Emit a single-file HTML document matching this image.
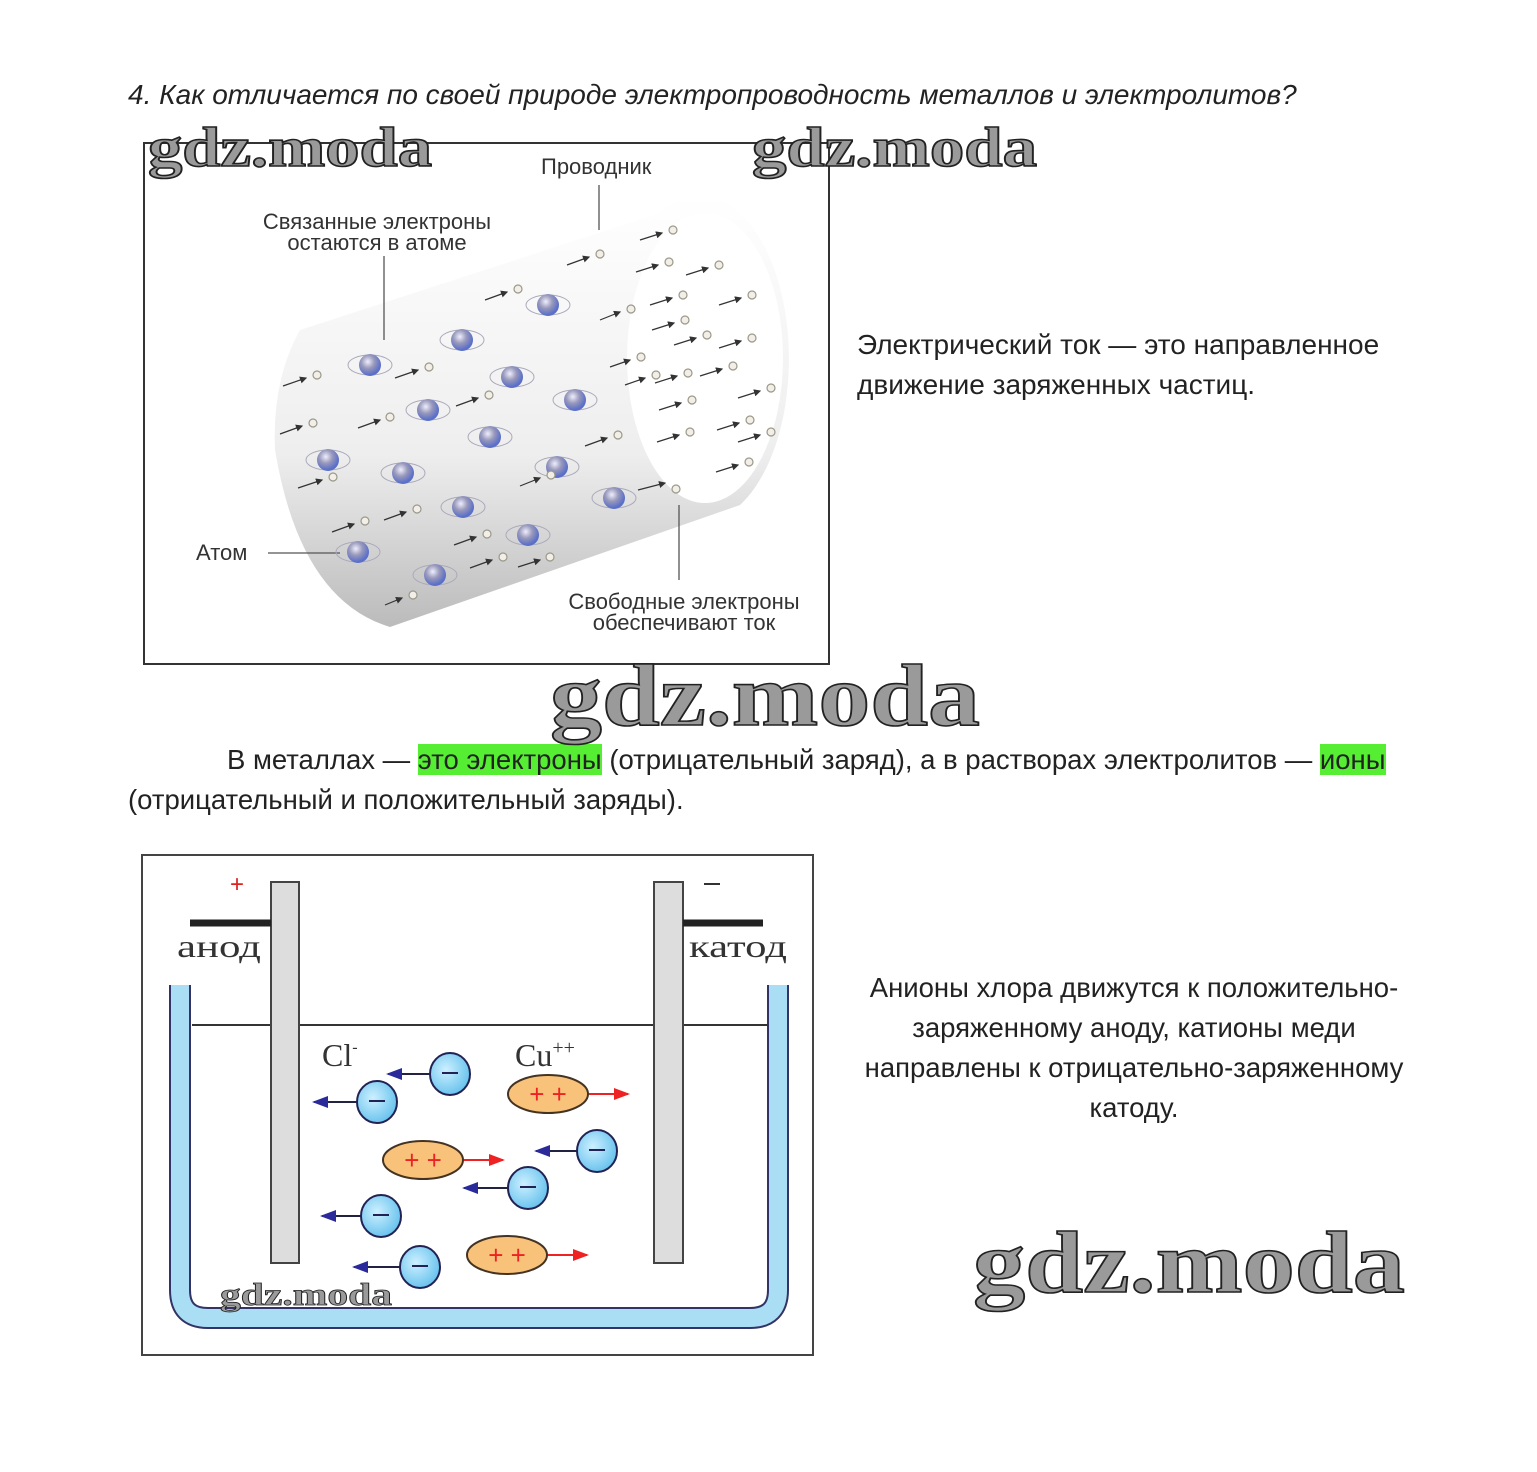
<!DOCTYPE html>
<html><head><meta charset="utf-8"><style>
body{margin:0;background:#fff;width:1537px;height:1472px;position:relative;overflow:hidden;font-family:"Liberation Sans","DejaVu Sans",sans-serif;color:#222}
.t{position:absolute;font-size:27.5px;white-space:nowrap;line-height:40px}
.hl{background:#55ee33}
.wm{font-family:"Liberation Serif",serif;font-weight:bold;fill:#9a9a9a;stroke:#222;stroke-width:1.6}
</style></head><body>
<div class="t" style="left:128px;top:75px;font-style:italic;font-size:28px">4. Как отличается по своей природе электропроводность металлов и электролитов?</div>
<div class="t" style="left:857px;top:325px;font-size:28px">Электрический ток — это направленное<br>движение заряженных частиц.</div>
<div class="t" style="left:227px;top:740px">В металлах — <span class="hl">это электроны</span> (отрицательный заряд), а в растворах электролитов — <span class="hl">ионы</span></div>
<div class="t" style="left:128px;top:780px">(отрицательный и положительный заряды).</div>
<div class="t" style="left:834px;top:968px;width:600px;text-align:center">Анионы хлора движутся к положительно-<br>заряженному аноду, катионы меди<br>направлены к отрицательно-заряженному<br>катоду.</div>

<svg width="1537" height="1472" style="position:absolute;left:0;top:0">
<defs>
<linearGradient id="cg" x1="0" y1="0" x2="0" y2="1"><stop offset="0" stop-color="#fff"/><stop offset="0.6" stop-color="#eee"/><stop offset="1" stop-color="#bbb"/></linearGradient>
<radialGradient id="ag" cx="0.4" cy="0.35" r="0.6"><stop offset="0" stop-color="#eef"/><stop offset="0.5" stop-color="#99b"/><stop offset="1" stop-color="#5a6fc8"/></radialGradient>
<radialGradient id="bl" cx="0.4" cy="0.4" r="0.6"><stop offset="0" stop-color="#cdf0ff"/><stop offset="1" stop-color="#6cc4ee"/></radialGradient>
<marker id="ka" markerWidth="6" markerHeight="6" refX="5" refY="3" orient="auto"><path d="M0,0L6,3L0,6z" fill="#333"/></marker>
<marker id="ba" markerUnits="userSpaceOnUse" markerWidth="16" markerHeight="12" refX="14" refY="6" orient="auto"><path d="M0,0L16,6L0,12z" fill="#2a2a9a"/></marker>
<marker id="ra" markerUnits="userSpaceOnUse" markerWidth="16" markerHeight="12" refX="14" refY="6" orient="auto"><path d="M0,0L16,6L0,12z" fill="#e22"/></marker>
</defs>
<rect x="144" y="143" width="685" height="521" fill="none" stroke="#333" stroke-width="2"/>
<path d="M300,330 L660,213 A80,147 0 0 1 740,505 L390,627 Q300,600 275,450 Q272,380 300,330Z" fill="url(#cg)"/>
<ellipse cx="705" cy="358" rx="78" ry="145" fill="#fff"/>
<g fill="#333" font-size="22">
<text x="541" y="174">Проводник</text>
<text x="377" y="229" text-anchor="middle">Связанные электроны</text>
<text x="377" y="250" text-anchor="middle">остаются в атоме</text>
<text x="196" y="560">Атом</text>
<text x="684" y="609" text-anchor="middle">Свободные электроны</text>
<text x="684" y="630" text-anchor="middle">обеспечивают ток</text>
</g>
<g stroke="#555" stroke-width="1.3"><line x1="599" y1="185" x2="599" y2="230"/><line x1="384" y1="256" x2="384" y2="340"/><line x1="268" y1="553" x2="340" y2="553"/><line x1="679" y1="505" x2="679" y2="580"/></g>
<g fill="none" stroke="#aab" stroke-width="1">
<ellipse cx="370" cy="365" rx="22" ry="10"/><ellipse cx="462" cy="340" rx="22" ry="10"/><ellipse cx="548" cy="305" rx="22" ry="10"/><ellipse cx="512" cy="377" rx="22" ry="10"/><ellipse cx="428" cy="410" rx="22" ry="10"/><ellipse cx="575" cy="400" rx="22" ry="10"/><ellipse cx="490" cy="437" rx="22" ry="10"/><ellipse cx="328" cy="460" rx="22" ry="10"/><ellipse cx="403" cy="473" rx="22" ry="10"/><ellipse cx="557" cy="467" rx="22" ry="10"/><ellipse cx="463" cy="507" rx="22" ry="10"/><ellipse cx="614" cy="498" rx="22" ry="10"/><ellipse cx="528" cy="535" rx="22" ry="10"/><ellipse cx="358" cy="552" rx="22" ry="10"/><ellipse cx="435" cy="575" rx="22" ry="10"/>
</g>
<g fill="url(#ag)">
<circle cx="370" cy="365" r="11"/><circle cx="462" cy="340" r="11"/><circle cx="548" cy="305" r="11"/><circle cx="512" cy="377" r="11"/><circle cx="428" cy="410" r="11"/><circle cx="575" cy="400" r="11"/><circle cx="490" cy="437" r="11"/><circle cx="328" cy="460" r="11"/><circle cx="403" cy="473" r="11"/><circle cx="557" cy="467" r="11"/><circle cx="463" cy="507" r="11"/><circle cx="614" cy="498" r="11"/><circle cx="528" cy="535" r="11"/><circle cx="358" cy="552" r="11"/><circle cx="435" cy="575" r="11"/>
</g>
<g stroke="#333" stroke-width="1.2" marker-end="url(#ka)">
<line x1="283" y1="386" x2="306" y2="378"/><line x1="280" y1="434" x2="302" y2="426"/><line x1="298" y1="488" x2="322" y2="480"/><line x1="358" y1="428" x2="380" y2="420"/><line x1="332" y1="532" x2="354" y2="524"/><line x1="384" y1="520" x2="406" y2="512"/><line x1="395" y1="378" x2="418" y2="370"/><line x1="456" y1="406" x2="478" y2="398"/><line x1="485" y1="300" x2="507" y2="292"/><line x1="520" y1="486" x2="540" y2="478"/><line x1="470" y1="568" x2="492" y2="560"/><line x1="454" y1="545" x2="476" y2="537"/><line x1="585" y1="446" x2="607" y2="438"/><line x1="567" y1="265" x2="589" y2="257"/><line x1="625" y1="385" x2="645" y2="378"/><line x1="610" y1="367" x2="630" y2="360"/><line x1="600" y1="320" x2="620" y2="312"/><line x1="640" y1="240" x2="662" y2="233"/><line x1="636" y1="272" x2="658" y2="265"/><line x1="686" y1="275" x2="708" y2="268"/><line x1="650" y1="305" x2="672" y2="298"/><line x1="674" y1="345" x2="696" y2="338"/><line x1="719" y1="305" x2="741" y2="298"/><line x1="652" y1="330" x2="674" y2="323"/><line x1="719" y1="348" x2="741" y2="341"/><line x1="655" y1="383" x2="677" y2="376"/><line x1="700" y1="376" x2="722" y2="369"/><line x1="738" y1="398" x2="760" y2="391"/><line x1="659" y1="410" x2="681" y2="403"/><line x1="657" y1="442" x2="679" y2="435"/><line x1="717" y1="430" x2="739" y2="423"/><line x1="738" y1="442" x2="760" y2="435"/><line x1="716" y1="472" x2="738" y2="465"/><line x1="638" y1="490" x2="665" y2="483"/><line x1="385" y1="605" x2="402" y2="598"/><line x1="518" y1="567" x2="540" y2="560"/></g>
<g fill="#f3eee8" stroke="#998" stroke-width="1.2">
<circle cx="317" cy="375" r="4"/><circle cx="313" cy="423" r="4"/><circle cx="333" cy="477" r="4"/><circle cx="390" cy="417" r="4"/><circle cx="365" cy="521" r="4"/><circle cx="417" cy="509" r="4"/><circle cx="429" cy="367" r="4"/><circle cx="489" cy="395" r="4"/><circle cx="518" cy="289" r="4"/><circle cx="551" cy="475" r="4"/><circle cx="503" cy="557" r="4"/><circle cx="487" cy="534" r="4"/><circle cx="618" cy="435" r="4"/><circle cx="600" cy="254" r="4"/><circle cx="656" cy="375" r="4"/><circle cx="641" cy="357" r="4"/><circle cx="631" cy="309" r="4"/><circle cx="673" cy="230" r="4"/><circle cx="669" cy="262" r="4"/><circle cx="719" cy="265" r="4"/><circle cx="683" cy="295" r="4"/><circle cx="707" cy="335" r="4"/><circle cx="752" cy="295" r="4"/><circle cx="685" cy="320" r="4"/><circle cx="752" cy="338" r="4"/><circle cx="688" cy="373" r="4"/><circle cx="733" cy="366" r="4"/><circle cx="771" cy="388" r="4"/><circle cx="692" cy="400" r="4"/><circle cx="690" cy="432" r="4"/><circle cx="750" cy="420" r="4"/><circle cx="771" cy="432" r="4"/><circle cx="749" cy="462" r="4"/><circle cx="676" cy="489" r="4"/><circle cx="413" cy="595" r="4"/><circle cx="550" cy="557" r="4"/></g>

<rect x="142" y="855" width="671" height="500" fill="none" stroke="#444" stroke-width="2"/>
<path d="M180,985 L180,1290 Q180,1318 208,1318 L750,1318 Q778,1318 778,1290 L778,985" fill="none" stroke="#336" stroke-width="22"/>
<path d="M180,985 L180,1290 Q180,1318 208,1318 L750,1318 Q778,1318 778,1290 L778,985" fill="none" stroke="#a9def4" stroke-width="18"/>
<line x1="192" y1="1025" x2="768" y2="1025" stroke="#333" stroke-width="2"/>
<rect x="271" y="882" width="28" height="381" fill="#ddd" stroke="#444" stroke-width="2"/>
<rect x="654" y="882" width="29" height="381" fill="#ddd" stroke="#444" stroke-width="2"/>
<line x1="190" y1="923" x2="271" y2="923" stroke="#222" stroke-width="7"/>
<line x1="683" y1="923" x2="763" y2="923" stroke="#222" stroke-width="7"/>
<g font-family="Liberation Serif,serif" font-size="32" fill="#333">
<text x="177" y="957" textLength="84" lengthAdjust="spacingAndGlyphs">анод</text><text x="689" y="957" textLength="98" lengthAdjust="spacingAndGlyphs">катод</text>
<text x="322" y="1066">Cl<tspan font-size="16" dy="-14">-</tspan></text>
<text x="515" y="1066">Cu<tspan font-size="20" dy="-12">++</tspan></text>
</g>
<text x="230" y="892" fill="#d22" font-size="24">+</text>
<line x1="704" y1="884" x2="720" y2="884" stroke="#333" stroke-width="2"/>
<g stroke="#224" stroke-width="2" marker-end="url(#ba)">
<line x1="430" y1="1074" x2="388" y2="1074"/><line x1="357" y1="1102" x2="314" y2="1102"/><line x1="577" y1="1151" x2="536" y2="1151"/><line x1="508" y1="1188" x2="464" y2="1188"/><line x1="361" y1="1216" x2="322" y2="1216"/><line x1="400" y1="1267" x2="354" y2="1267"/></g>
<g fill="url(#bl)" stroke="#225" stroke-width="2">
<ellipse cx="450" cy="1074" rx="20" ry="21"/><ellipse cx="377" cy="1102" rx="20" ry="21"/><ellipse cx="597" cy="1151" rx="20" ry="21"/><ellipse cx="528" cy="1188" rx="20" ry="21"/><ellipse cx="381" cy="1216" rx="20" ry="21"/><ellipse cx="420" cy="1267" rx="20" ry="21"/></g>
<g stroke="#225" stroke-width="2"><line x1="442" y1="1073" x2="458" y2="1073"/><line x1="369" y1="1101" x2="385" y2="1101"/><line x1="589" y1="1150" x2="605" y2="1150"/><line x1="520" y1="1187" x2="536" y2="1187"/><line x1="373" y1="1215" x2="389" y2="1215"/><line x1="412" y1="1266" x2="428" y2="1266"/></g>
<g stroke="#e22" stroke-width="2" marker-end="url(#ra)"><line x1="588" y1="1094" x2="628" y2="1094"/><line x1="463" y1="1160" x2="503" y2="1160"/><line x1="547" y1="1255" x2="587" y2="1255"/></g>
<g fill="#f8c27a" stroke="#432" stroke-width="2"><ellipse cx="548" cy="1094" rx="40" ry="19"/><ellipse cx="423" cy="1160" rx="40" ry="19"/><ellipse cx="507" cy="1255" rx="40" ry="19"/></g>
<g fill="#e22" font-size="26" text-anchor="middle"><text x="548" y="1103">+ +</text><text x="423" y="1169">+ +</text><text x="507" y="1264">+ +</text></g>

<g class="wm"><text x="148" y="166" font-size="56" textLength="284" lengthAdjust="spacingAndGlyphs">gdz.moda</text><text x="752" y="166" font-size="56" textLength="285" lengthAdjust="spacingAndGlyphs">gdz.moda</text>
<text x="550" y="725" font-size="88" textLength="430" lengthAdjust="spacingAndGlyphs">gdz.moda</text><text x="973" y="1292" font-size="88" textLength="432" lengthAdjust="spacingAndGlyphs">gdz.moda</text>
<text x="220" y="1305" font-size="32" stroke-width="0.8" textLength="172" lengthAdjust="spacingAndGlyphs">gdz.moda</text></g>
</svg>
</body></html>
